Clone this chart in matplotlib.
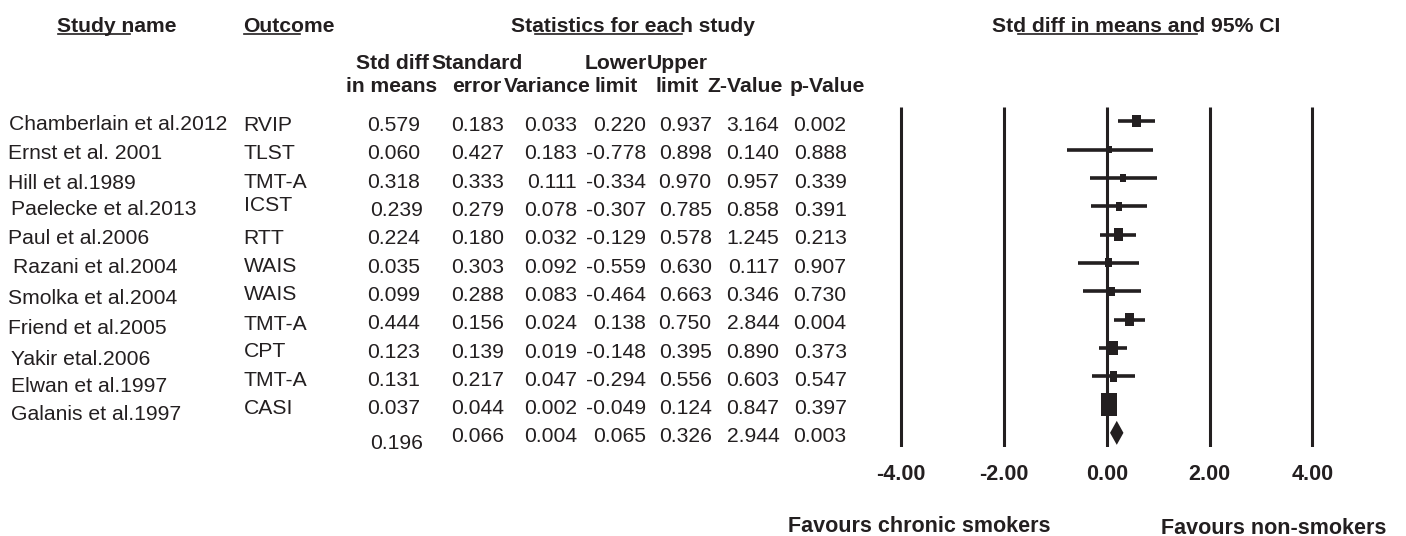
import numpy as np
import matplotlib.pyplot as plt
from matplotlib.patches import Rectangle, Polygon
from matplotlib import transforms

plt.rcParams['font.family'] = ['Liberation Sans', 'DejaVu Sans']

# Data
studies = ["Chamberlain et al.2012", "Ernst et al. 2001", "Hill et al.1989",
           "Paelecke et al.2013", "Paul et al.2006", "Razani et al.2004",
           "Smolka et al.2004", "Friend et al.2005", "Yakir etal.2006",
           "Elwan et al.1997", "Galanis et al.1997"]
outcomes = ["RVIP", "TLST", "TMT-A", "ICST", "RTT", "WAIS", "WAIS",
            "TMT-A", "CPT", "TMT-A", "CASI"]
smd = [0.579, 0.060, 0.318, 0.239, 0.224, 0.035, 0.099, 0.444, 0.123, 0.131, 0.037]
se = [0.183, 0.427, 0.333, 0.279, 0.180, 0.303, 0.288, 0.156, 0.139, 0.217, 0.044]
var = [0.033, 0.183, 0.111, 0.078, 0.032, 0.092, 0.083, 0.024, 0.019, 0.047, 0.002]
lower = [0.220, -0.778, -0.334, -0.307, -0.129, -0.559, -0.464, 0.138, -0.148, -0.294, -0.049]
upper = [0.937, 0.898, 0.970, 0.785, 0.578, 0.630, 0.663, 0.750, 0.395, 0.556, 0.124]
zval = [3.164, 0.140, 0.957, 0.858, 1.245, 0.117, 0.346, 2.844, 0.890, 0.603, 0.847]
pval = [0.002, 0.888, 0.339, 0.391, 0.213, 0.907, 0.730, 0.004, 0.373, 0.547, 0.397]

# pooled effect (smd, se, var, lower, upper, z, p)
pooled = [0.196, 0.066, 0.004, 0.065, 0.326, 2.944, 0.003]

ticks = [-4, -2, 0, 2, 4]
col_heads = [("Std diff", "in means"), ("Standard", "error"), ("", "Variance"),
             ("Lower", "limit"), ("Upper", "limit"), ("", "Z-Value"), ("", "p-Value")]

# layout (pixels of a 1406x536 canvas)
W, H = 1406, 536
ink = '#231f20'
fs = 15.2

fig = plt.figure(figsize=(W / 100, H / 100), dpi=100)
ax_l, ax_r, ax_t, ax_b = 849.7, 1363.7, 107, 447
ax = fig.add_axes([ax_l / W, 1 - ax_b / H, (ax_r - ax_l) / W, (ax_b - ax_t) / H])
n = len(studies)
ax.set_xlim(-5, 5)
ax.set_ylim(n + 0.5, -0.5)
for s in ax.spines.values():
    s.set_visible(False)
ax.set_yticks([])
ax.set_xticks(ticks)
ax.set_xticklabels([f"{t:.2f}" for t in ticks], fontsize=15.5, fontweight='bold', color=ink)
ax.tick_params(axis='x', length=0, pad=12)

px_x = (ax_r - ax_l) / 10.0          # pixels per x unit
px_y = (ax_b - ax_t) / (n + 1.0)     # pixels per row

ax.vlines(ticks, -0.5, n + 0.5, color=ink, lw=2.2)

rows = np.arange(n)
ax.hlines(rows, lower, upper, color=ink, lw=2.6)
for i in range(n):
    w = 1.0 / var[i]
    wpx = min(2.76 + 1.08 * np.sqrt(w), 16)
    hpx = 1.38 * wpx
    dw, dh = wpx / px_x, hpx / px_y
    ax.add_patch(Rectangle((smd[i] - dw / 2, rows[i] - dh / 2), dw, dh, color=ink, lw=0))

dh = 12 / px_y
ax.add_patch(Polygon([(pooled[3], n), (pooled[0], n - dh), (pooled[4], n), (pooled[0], n + dh)],
                     closed=True, color=ink, lw=0))

# table text
tr = transforms.blended_transform_factory(fig.transFigure, ax.transData)
base = 7.5 / px_y
name_x = [10, 9.3, 9.3, 12.3, 9.3, 14, 9.3, 9.3, 12.3, 12.3, 12.3]
name_dy = [1.8, 2.2, 3.8, 1.8, 1.5, 3.1, 5.5, 6.5, 10.1, 8.8, 8.2]
out_dy = [2.3, 2.3, 2.8, -2.2, 2.3, 2.1, 1.8, 3.2, 2.1, 2.8, 2.2]
col_right = [420.5, 504.3, 577, 646, 711.7, 779.3, 846.7]

for i in range(n):
    ax.text((name_x[i] - 1) / W, rows[i] + name_dy[i] / px_y + base, studies[i],
            transform=tr, fontsize=fs, color=ink, va='baseline', ha='left')
    ax.text(243.5 / W, rows[i] + out_dy[i] / px_y + base, outcomes[i],
            transform=tr, fontsize=fs, color=ink, va='baseline', ha='left')
    vals = [smd[i], se[i], var[i], lower[i], upper[i], zval[i], pval[i]]
    for j, v in enumerate(vals):
        xr = col_right[j] + (2.4 if (j == 0 and i == 3) else 0)
        ax.text(xr / W, rows[i] + 2.3 / px_y + base, f"{v:.3f}",
                transform=tr, fontsize=fs, color=ink, va='baseline', ha='right')

for j, v in enumerate(pooled):
    dy = 8.8 if j == 0 else 2.1
    xr = col_right[j] + (2.4 if j == 0 else 0)
    ax.text(xr / W, n + dy / px_y + base, f"{v:.3f}",
            transform=tr, fontsize=fs, color=ink, va='baseline', ha='right')

# headers
def ftext(x, y, s, **kw):
    fig.text(x / W, 1 - (y + 7.5) / H, s, fontsize=fs, fontweight='bold', color=ink,
             va='baseline', **kw)

def uline(x0, x1, y):
    fig.add_artist(plt.Line2D([x0 / W, x1 / W], [1 - y / H, 1 - y / H],
                              transform=fig.transFigure, color=ink, lw=1.2))

ftext(57.5, 25, "Study name", ha='left')
uline(58, 129.5, 34)
ftext(243.5, 25, "Outcome", ha='left')
uline(244, 300, 34)
ftext(511, 24, "Statistics for each study", ha='left')
uline(535, 682, 34)
ftext(992, 25, "Std diff in means and 95% CI", ha='left')
uline(1018, 1197, 34)

head_x = [392, 477, 547, 616, 677, 745, 827]
for (l1, l2), hx in zip(col_heads, head_x):
    if l1:
        ftext(hx, 61.7, l1, ha='center')
    ftext(hx, 85, l2, ha='center')

fig.text(919 / W, 1 - (524 + 7.7) / H, "Favours chronic smokers", fontsize=15.5,
         fontweight='bold', color=ink, ha='center', va='baseline')
fig.text(1274 / W, 1 - (526 + 7.7) / H, "Favours non-smokers", fontsize=15.5,
         fontweight='bold', color=ink, ha='center', va='baseline')

fig.savefig('out.png', dpi=100)
